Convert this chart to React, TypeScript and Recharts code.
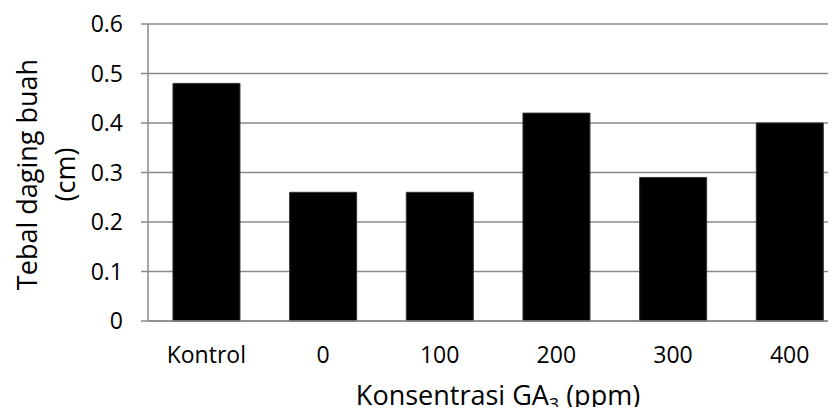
import React from 'react';
import { BarChart, Bar, XAxis, YAxis, CartesianGrid } from 'recharts';

const categories = ['Kontrol', '0', '100', '200', '300', '400'];
const thickness = [0.48, 0.26, 0.26, 0.42, 0.29, 0.4];
const yTicks = [0, 0.1, 0.2, 0.3, 0.4, 0.5, 0.6];

const data = categories.map((name, i) => ({ name, value: thickness[i] }));

const FONT = '"Open Sans", sans-serif';
const GRID = '#8a8a8a';

// two-line rotated y title, baselines at x=37 and x=75
const YLabel = (props: any) => {
  const { viewBox } = props;
  const cy = viewBox.y + viewBox.height / 2 + 2;
  return (
    <g style={{ fontFamily: FONT, fontSize: 27, fill: '#000' }}>
      <text x={37} y={cy} transform={`rotate(-90 37 ${cy})`} textAnchor="middle">
        Tebal daging buah
      </text>
      <text x={75} y={cy} transform={`rotate(-90 75 ${cy})`} textAnchor="middle">
        (cm)
      </text>
    </g>
  );
};

const XLabel = (props: any) => {
  const { viewBox } = props;
  const cx = viewBox.x + viewBox.width / 2;
  return (
    <text x={cx} y={405} textAnchor="middle" style={{ fontFamily: FONT, fontSize: 27, fill: '#000' }}>
      <tspan>Konsentrasi GA</tspan>
      <tspan dy={6} fontSize={18}>3</tspan>
      <tspan dy={-6}> (ppm)</tspan>
    </text>
  );
};

export default function App() {
  return (
    <div style={{ margin: -8, width: 836, height: 415, overflow: 'hidden', background: '#fff' }}>
      <BarChart
        width={860}
        height={415}
        data={data}
        margin={{ top: 24, right: 12, bottom: 0, left: 0 }}
        barCategoryGap="21.4%"
      >
        <CartesianGrid vertical={false} stroke={GRID} strokeWidth={1.5} />
        <XAxis
          dataKey="name"
          height={94}
          axisLine={{ stroke: GRID, strokeWidth: 1.5 }}
          tickLine={false}
          tickSize={0}
          tickMargin={26}
          tick={{ fontFamily: FONT, fontSize: 23, fill: '#000' }}
          label={<XLabel />}
        />
        <YAxis
          width={148}
          domain={[0, 0.6]}
          ticks={yTicks}
          interval={0}
          axisLine={{ stroke: GRID, strokeWidth: 1.5 }}
          tickLine={{ stroke: GRID, strokeWidth: 1.5 }}
          tickSize={7}
          tickMargin={18}
          tickFormatter={(v: number) => (v === 0 ? '0' : v.toFixed(1))}
          tick={{ fontFamily: FONT, fontSize: 23, fill: '#000' }}
          label={<YLabel />}
        />
        <Bar dataKey="value" fill="#000" stroke="#333" strokeWidth={1} isAnimationActive={false} />
      </BarChart>
    </div>
  );
}
